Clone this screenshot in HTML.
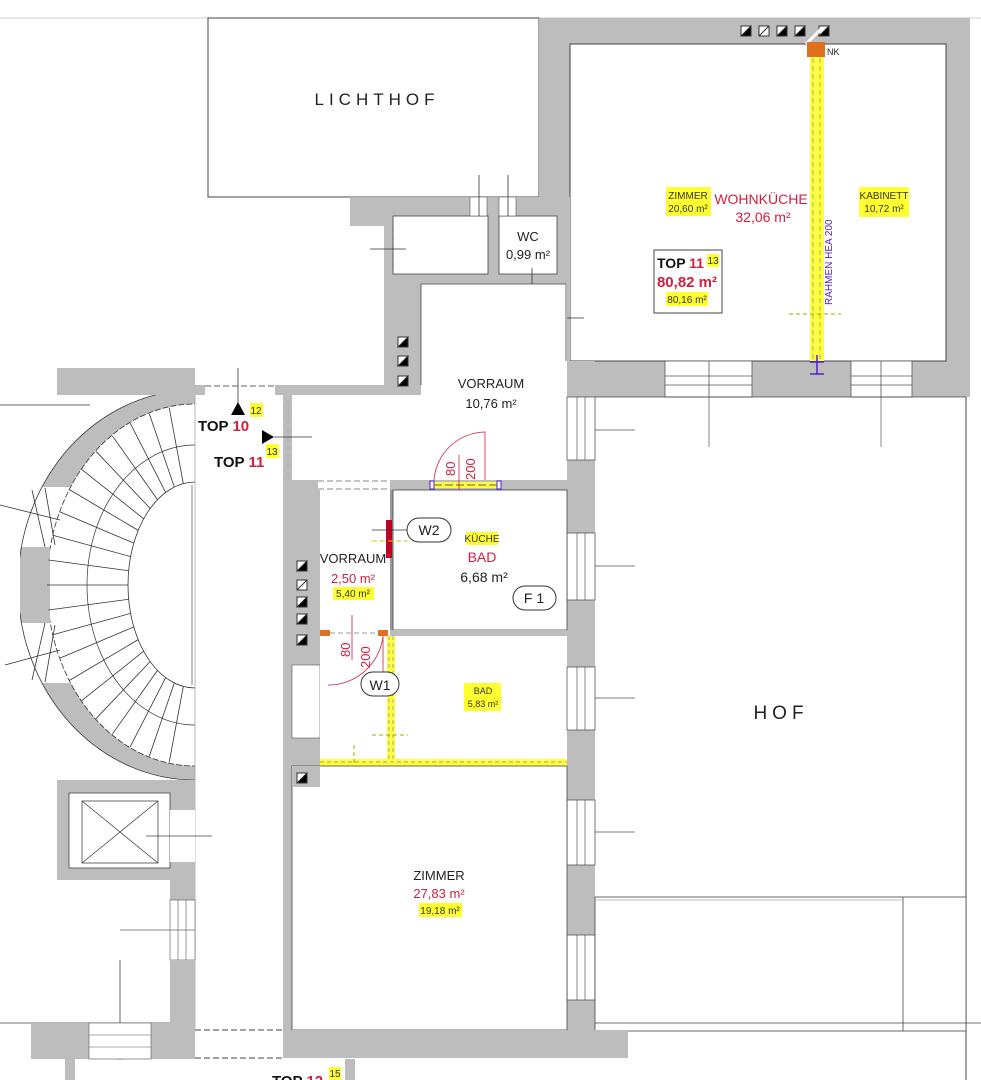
<!DOCTYPE html>
<html><head><meta charset="utf-8"><style>
html,body{margin:0;padding:0;background:#fff;}
svg{display:block;font-family:"Liberation Sans",sans-serif;}
</style></head><body>
<svg width="981" height="1080" viewBox="0 0 981 1080" xmlns="http://www.w3.org/2000/svg">
<defs><clipPath id="lh"><rect x="0" y="360" width="195" height="440"/></clipPath></defs>
<rect width="981" height="1080" fill="#fff"/>
<line x1="0" y1="18" x2="981" y2="18" stroke="#ccc" stroke-width="1"/>
<rect x="208" y="18" width="331" height="179" fill="#fff" stroke="#444" stroke-width="1"/>
<text x="377" y="105" font-size="17" text-anchor="middle" letter-spacing="5" fill="#222">LICHTHOF</text>

<rect x="539" y="18" width="431" height="379" fill="#bdbdbd"/>
<rect x="570" y="44" width="376" height="317" fill="#fff" stroke="#444" stroke-width="1"/>
<rect x="665" y="361" width="87" height="36" fill="#fff" stroke="#555" stroke-width="0.8"/>
<line x1="665" y1="376" x2="752" y2="376" stroke="#555" stroke-width="0.8"/>
<line x1="665" y1="385" x2="752" y2="385" stroke="#555" stroke-width="0.8"/>
<line x1="709" y1="361" x2="709" y2="397" stroke="#555" stroke-width="0.8"/>
<rect x="851" y="361" width="61" height="36" fill="#fff" stroke="#555" stroke-width="0.8"/>
<line x1="851" y1="376" x2="912" y2="376" stroke="#555" stroke-width="0.8"/>
<line x1="851" y1="385" x2="912" y2="385" stroke="#555" stroke-width="0.8"/>
<line x1="881" y1="361" x2="881" y2="397" stroke="#555" stroke-width="0.8"/>

<rect x="350" y="197" width="220" height="29" fill="#bdbdbd"/>
<rect x="384" y="226" width="186" height="170" fill="#bdbdbd"/>
<rect x="393" y="216" width="95" height="58" fill="#fff" stroke="#444" stroke-width="0.8"/>
<rect x="499" y="216" width="58" height="58" fill="#fff" stroke="#444" stroke-width="0.8"/>
<rect x="470" y="197" width="17" height="19" fill="#fff" stroke="#555" stroke-width="0.6"/>
<rect x="499" y="197" width="17" height="19" fill="#fff" stroke="#555" stroke-width="0.6"/>
<line x1="479" y1="175" x2="479" y2="216" stroke="#333" stroke-width="0.8"/>
<line x1="508" y1="175" x2="508" y2="216" stroke="#333" stroke-width="0.8"/>
<line x1="393" y1="226" x2="393" y2="272" stroke="#555" stroke-dasharray="6,3"/>
<line x1="370" y1="249" x2="406" y2="249" stroke="#333" stroke-width="0.8"/>
<text x="528" y="241" font-size="13" text-anchor="middle" fill="#222">WC</text>
<text x="528" y="259" font-size="13" text-anchor="middle" fill="#222">0,99 m²</text>
<line x1="532" y1="268" x2="532" y2="298" stroke="#333" stroke-width="0.8"/>
<line x1="550" y1="318" x2="584" y2="318" stroke="#333" stroke-width="0.8"/>

<g clip-path="url(#lh)">
<ellipse cx="195" cy="585" rx="177" ry="195" fill="#bdbdbd"/>
<path d="M20 487 L70 487 L70 547 L20 547Z M20 623 L70 623 L70 683 L20 683Z" fill="#fff"/>
<ellipse cx="195" cy="585" rx="177" ry="195" fill="none" stroke="#333" stroke-width="0.8"/>
<ellipse cx="195" cy="585" rx="148" ry="181" fill="#fff" stroke="#333" stroke-width="0.8" stroke-dasharray="6,2"/>
<ellipse cx="195" cy="585" rx="108" ry="140" fill="none" stroke="#333" stroke-width="0.7"/>
<ellipse cx="195" cy="585" rx="67" ry="103" fill="#fff" stroke="#333" stroke-width="0.8"/>
</g>
<rect x="0" y="360" width="20" height="440" fill="#fff"/>
<rect x="22" y="547" width="28" height="76" fill="#bdbdbd"/>
<rect x="57" y="368" width="138" height="27" fill="#bdbdbd"/>
<g stroke="#333" stroke-width="0.8">
<line x1="32" y1="490" x2="45" y2="547"/><line x1="45" y1="488" x2="55" y2="545"/>
<line x1="32" y1="680" x2="45" y2="623"/><line x1="45" y1="682" x2="55" y2="625"/>
<line x1="183.3" y1="483.5" x2="169.2" y2="407.7"/><line x1="174.3" y1="487" x2="149.3" y2="413.8"/>
<line x1="165.7" y1="492.4" x2="130.2" y2="423.2"/><line x1="157.5" y1="499.6" x2="112.3" y2="435.8"/>
<line x1="150.2" y1="508.5" x2="96" y2="451.3"/><line x1="143.7" y1="518.8" x2="81.6" y2="469.3"/>
<line x1="138.2" y1="530.4" x2="69.5" y2="489.6"/><line x1="133.8" y1="543.1" x2="59.7" y2="511.7"/>
<line x1="130.6" y1="556.6" x2="52.8" y2="535.3"/><line x1="128.7" y1="570.7" x2="48.5" y2="560"/>
<line x1="128" y1="585" x2="47" y2="585"/>
<line x1="128.7" y1="599.3" x2="48.5" y2="610"/><line x1="130.6" y1="613.4" x2="52.8" y2="634.7"/>
<line x1="133.8" y1="626.9" x2="59.7" y2="658.3"/><line x1="138.2" y1="639.6" x2="69.5" y2="680.4"/>
<line x1="143.7" y1="651.2" x2="81.6" y2="700.7"/><line x1="150.2" y1="661.5" x2="96" y2="718.7"/>
<line x1="157.5" y1="670.4" x2="112.3" y2="734.2"/><line x1="165.7" y1="677.6" x2="130.2" y2="746.8"/>
<line x1="174.3" y1="683" x2="149.3" y2="756.2"/><line x1="183.3" y1="686.5" x2="169.2" y2="762.3"/>
<line x1="0" y1="505" x2="60" y2="520"/><line x1="5" y1="665" x2="60" y2="650"/>
</g>
<line x1="192" y1="485" x2="192" y2="685" stroke="#999" stroke-width="1.2"/>
<line x1="0" y1="405" x2="90" y2="405" stroke="#333" stroke-width="0.8"/>
<line x1="195" y1="395" x2="195" y2="1030" stroke="#888" stroke-width="0.6"/>

<rect x="195" y="385" width="226" height="10" fill="#bdbdbd"/>
<rect x="205" y="385" width="70" height="10" fill="#fff"/>
<line x1="205" y1="386" x2="275" y2="386" stroke="#333" stroke-dasharray="6,3" stroke-width="0.8"/>
<line x1="238" y1="368" x2="238" y2="405" stroke="#333" stroke-width="0.8"/>

<rect x="421" y="284" width="146" height="111" fill="#fff"/>
<rect x="292" y="395" width="275" height="85" fill="#fff"/>
<line x1="421" y1="284" x2="566" y2="284" stroke="#444" stroke-width="0.8"/>
<line x1="421" y1="284" x2="421" y2="385" stroke="#444" stroke-width="0.8"/>
<text x="491" y="388" font-size="13" text-anchor="middle" fill="#222">VORRAUM</text>
<text x="491" y="408" font-size="13" text-anchor="middle" fill="#222">10,76 m²</text>

<rect x="567" y="361" width="28" height="670" fill="#bdbdbd"/>
<line x1="566" y1="284" x2="566" y2="361" stroke="#444" stroke-width="0.8"/>
<g stroke="#555" stroke-width="0.8" fill="#fff">
<rect x="567" y="397" width="28" height="63"/><rect x="567" y="533" width="28" height="67"/>
<rect x="567" y="667" width="28" height="63"/><rect x="567" y="800" width="28" height="65"/>
<rect x="567" y="935" width="28" height="65"/>
</g>
<g stroke="#555" stroke-width="0.7">
<line x1="577" y1="397" x2="577" y2="460"/><line x1="585" y1="397" x2="585" y2="460"/>
<line x1="577" y1="533" x2="577" y2="600"/><line x1="585" y1="533" x2="585" y2="600"/>
<line x1="577" y1="667" x2="577" y2="730"/><line x1="585" y1="667" x2="585" y2="730"/>
<line x1="577" y1="800" x2="577" y2="865"/><line x1="585" y1="800" x2="585" y2="865"/>
<line x1="577" y1="935" x2="577" y2="1000"/><line x1="585" y1="935" x2="585" y2="1000"/>
<line x1="595" y1="430" x2="635" y2="430"/><line x1="595" y1="566" x2="635" y2="566"/>
<line x1="595" y1="698" x2="635" y2="698"/><line x1="595" y1="832" x2="635" y2="832"/>
<line x1="595" y1="967" x2="635" y2="967"/>
<line x1="709" y1="397" x2="709" y2="447"/><line x1="881" y1="397" x2="881" y2="447"/>
</g>

<line x1="595" y1="397" x2="966" y2="397" stroke="#444" stroke-width="0.8"/>
<line x1="966" y1="397" x2="966" y2="1080" stroke="#444" stroke-width="1"/>
<text x="781" y="719" font-size="19" text-anchor="middle" letter-spacing="5" fill="#222">HOF</text>
<rect x="595" y="897" width="371" height="134" fill="#fff" stroke="#444" stroke-width="0.8"/>
<line x1="903" y1="897" x2="903" y2="1031" stroke="#444" stroke-width="0.8"/>
<line x1="595" y1="900" x2="903" y2="900" stroke="#aaa" stroke-width="0.8"/>

<rect x="283" y="395" width="9" height="635" fill="#bdbdbd"/>
<rect x="283" y="487" width="37" height="300" fill="#bdbdbd"/>
<rect x="292" y="665" width="28" height="73" fill="#fff" stroke="#555" stroke-width="0.6"/>
<line x1="288" y1="400" x2="288" y2="480" stroke="#aaa" stroke-dasharray="6,3"/>
<rect x="292" y="480" width="275" height="10" fill="#bdbdbd"/>
<rect x="318" y="480" width="72" height="10" fill="#fff"/>
<line x1="318" y1="481" x2="390" y2="481" stroke="#888" stroke-dasharray="6,3"/>
<line x1="318" y1="489" x2="390" y2="489" stroke="#888" stroke-dasharray="6,3"/>
<rect x="320" y="490" width="70" height="140" fill="#fff"/>
<rect x="432" y="482" width="68" height="6" fill="#ffff40"/>
<rect x="430" y="481" width="4" height="8" fill="#fff" stroke="#5020d0" stroke-width="1"/>
<rect x="497" y="481" width="4" height="8" fill="#fff" stroke="#5020d0" stroke-width="1"/>
<line x1="434" y1="485" x2="497" y2="485" stroke="#333" stroke-width="0.8" stroke-dasharray="8,3"/>
<path d="M434 480 A52 52 0 0 1 485 432 L485 480" fill="none" stroke="#d02040" stroke-width="0.8"/>
<line x1="459" y1="455" x2="459" y2="505" stroke="#d02040" stroke-width="0.8"/>
<text x="0" y="0" font-size="13" fill="#d02040" transform="translate(455,476) rotate(-90)">80</text>
<text x="0" y="0" font-size="13" fill="#d02040" transform="translate(475,480) rotate(-90)">200</text>
<text x="469" y="500" font-size="10" fill="#5020d0">RAHMEN 120/60/5</text>

<rect x="390" y="490" width="3" height="146" fill="#999"/>
<rect x="393" y="490" width="174" height="140" fill="#fff" stroke="#444" stroke-width="0.8"/>
<rect x="390" y="630" width="177" height="6" fill="#bdbdbd"/>
<rect x="386" y="520" width="6" height="38" fill="#c00020"/>
<line x1="372" y1="530" x2="408" y2="530" stroke="#333" stroke-width="0.8"/>
<line x1="372" y1="541" x2="408" y2="541" stroke="#cc0" stroke-width="1" stroke-dasharray="5,3"/>
<rect x="407" y="518" width="44" height="24" rx="12" fill="#fff" stroke="#333" stroke-width="1"/>
<text x="429" y="535" font-size="14" text-anchor="middle" fill="#222">W2</text>
<rect x="466" y="532" width="32" height="13" fill="#ffff30"/>
<text x="482" y="542" font-size="10" text-anchor="middle" fill="#333">KÜCHE</text>
<text x="482" y="562" font-size="14" text-anchor="middle" fill="#d02040">BAD</text>
<text x="484" y="582" font-size="14" text-anchor="middle" fill="#222">6,68 m²</text>
<rect x="513" y="586" width="43" height="24" rx="12" fill="#fff" stroke="#333" stroke-width="1"/>
<text x="534" y="603" font-size="14" text-anchor="middle" fill="#222">F 1</text>

<text x="353" y="563" font-size="13" text-anchor="middle" fill="#222">VORRAUM</text>
<text x="353" y="583" font-size="13" text-anchor="middle" fill="#d02040">2,50 m²</text>
<rect x="333" y="587" width="41" height="13" fill="#ffff30"/>
<text x="353" y="597" font-size="10" text-anchor="middle" fill="#333">5,40 m²</text>
<g stroke="#333" stroke-width="1">
<rect x="297" y="561" width="10" height="10" fill="#fff"/><path d="M297 571 L307 561 L307 571Z" fill="#000"/>
<rect x="297" y="580" width="10" height="10" fill="#fff"/><line x1="297" y1="590" x2="307" y2="580"/>
<rect x="297" y="597" width="10" height="10" fill="#fff"/><path d="M297 607 L307 597 L307 607Z" fill="#000"/>
<rect x="297" y="614" width="10" height="10" fill="#fff"/><path d="M297 624 L307 614 L307 624Z" fill="#000"/>
<rect x="297" y="635" width="10" height="10" fill="#fff"/><path d="M297 645 L307 635 L307 645Z" fill="#000"/>
<rect x="398" y="337" width="10" height="10" fill="#fff"/><path d="M398 347 L408 337 L408 347Z" fill="#000"/>
<rect x="398" y="356" width="10" height="10" fill="#fff"/><path d="M398 366 L408 356 L408 366Z" fill="#000"/>
<rect x="398" y="376" width="10" height="10" fill="#fff"/><path d="M398 386 L408 376 L408 386Z" fill="#000"/>
<rect x="741" y="26" width="10" height="10" fill="#fff"/><path d="M741 36 L751 26 L751 36Z" fill="#000"/>
<rect x="759" y="26" width="10" height="10" fill="#fff"/><line x1="759" y1="36" x2="769" y2="26"/>
<rect x="777" y="26" width="10" height="10" fill="#fff"/><path d="M777 36 L787 26 L787 36Z" fill="#000"/>
<rect x="795" y="26" width="10" height="10" fill="#fff"/><path d="M795 36 L805 26 L805 36Z" fill="#000"/>
<rect x="819" y="26" width="10" height="10" fill="#fff"/><path d="M819 36 L829 26 L829 36Z" fill="#000"/>
</g>
<line x1="806" y1="44" x2="822" y2="28" stroke="#fff" stroke-width="3"/>

<rect x="320" y="630" width="10" height="6" fill="#e07020"/>
<rect x="378" y="630" width="10" height="6" fill="#e07020"/>
<line x1="330" y1="633" x2="378" y2="633" stroke="#999" stroke-dasharray="5,3"/>
<rect x="320" y="636" width="67" height="123" fill="#fff"/>
<path d="M328 685 A55 55 0 0 0 383 636 L383 690" fill="none" stroke="#d02040" stroke-width="0.8"/>
<line x1="352" y1="615" x2="352" y2="660" stroke="#d02040" stroke-width="0.8"/>
<text x="0" y="0" font-size="13" fill="#d02040" transform="translate(350,657) rotate(-90)">80</text>
<text x="0" y="0" font-size="13" fill="#d02040" transform="translate(370,668) rotate(-90)">200</text>
<rect x="387" y="636" width="8" height="126" fill="#ffff40"/>
<line x1="389" y1="636" x2="389" y2="762" stroke="#888" stroke-dasharray="4,3" stroke-width="0.7"/>
<line x1="393" y1="636" x2="393" y2="762" stroke="#888" stroke-dasharray="4,3" stroke-width="0.7"/>
<line x1="372" y1="735" x2="408" y2="735" stroke="#aa0" stroke-dasharray="4,3"/>
<rect x="361" y="672" width="38" height="24" rx="12" fill="#fff" stroke="#333" stroke-width="1"/>
<text x="380" y="690" font-size="14" text-anchor="middle" fill="#222">W1</text>
<rect x="464" y="683" width="37" height="28" fill="#ffff30"/>
<text x="483" y="694" font-size="9" text-anchor="middle" fill="#333">BAD</text>
<text x="483" y="707" font-size="9" text-anchor="middle" fill="#333">5,83 m²</text>
<rect x="320" y="759" width="247" height="7" fill="#ffff40"/>
<line x1="320" y1="762" x2="567" y2="762" stroke="#888" stroke-dasharray="4,3" stroke-width="0.7"/>
<line x1="354" y1="745" x2="354" y2="782" stroke="#aa0" stroke-dasharray="4,3"/>

<rect x="292" y="766" width="275" height="264" fill="#fff" stroke="#444" stroke-width="0.8"/>
<rect x="292" y="766" width="28" height="21" fill="#bdbdbd"/>
<g stroke="#333" stroke-width="1"><rect x="297" y="773" width="10" height="10" fill="#fff"/><path d="M297 783 L307 773 L307 783Z" fill="#000"/></g>
<rect x="283" y="1030" width="345" height="28" fill="#bdbdbd"/>
<text x="439" y="880" font-size="13" text-anchor="middle" fill="#222">ZIMMER</text>
<text x="439" y="898" font-size="13" text-anchor="middle" fill="#d02040">27,83 m²</text>
<rect x="419" y="903" width="43" height="14" fill="#ffff30"/>
<text x="440" y="914" font-size="10" text-anchor="middle" fill="#333">19,18 m²</text>

<rect x="810" y="44" width="14" height="317" fill="#ffff40"/>
<line x1="813" y1="50" x2="813" y2="361" stroke="#888" stroke-dasharray="5,3" stroke-width="0.7"/>
<line x1="820" y1="50" x2="820" y2="361" stroke="#888" stroke-dasharray="5,3" stroke-width="0.7"/>
<rect x="807" y="42" width="18" height="15" fill="#e07020"/>
<text x="827" y="55" font-size="9" fill="#222">NK</text>
<line x1="789" y1="314" x2="841" y2="314" stroke="#aa0" stroke-dasharray="4,3"/>
<line x1="810" y1="362" x2="824" y2="362" stroke="#5020d0" stroke-width="1.5"/>
<line x1="810" y1="374" x2="824" y2="374" stroke="#5020d0" stroke-width="1.5"/>
<line x1="817" y1="355" x2="817" y2="374" stroke="#5020d0" stroke-width="1.5"/>
<text x="0" y="0" font-size="10" fill="#5020d0" transform="translate(832,305) rotate(-90)">RAHMEN HEA 200</text>
<rect x="666" y="187" width="45" height="29" fill="#ffff30"/>
<text x="688" y="199" font-size="10" text-anchor="middle" fill="#333">ZIMMER</text>
<text x="688" y="212" font-size="10" text-anchor="middle" fill="#333">20,60 m²</text>
<text x="761" y="204" font-size="14" text-anchor="middle" fill="#d02040">WOHNKÜCHE</text>
<text x="763" y="222" font-size="14" text-anchor="middle" fill="#d02040">32,06 m²</text>
<rect x="859" y="187" width="50" height="30" fill="#ffff30"/>
<text x="884" y="199" font-size="10" text-anchor="middle" fill="#333">KABINETT</text>
<text x="884" y="212" font-size="10" text-anchor="middle" fill="#333">10,72 m²</text>
<rect x="654" y="250" width="68" height="63" fill="#fff" stroke="#444" stroke-width="1"/>
<text x="657" y="268" font-size="14" font-weight="bold" fill="#111">TOP <tspan fill="#d02040">11</tspan></text>
<rect x="707" y="254" width="12" height="13" fill="#ffff30"/>
<text x="713" y="264" font-size="10" text-anchor="middle" fill="#333">13</text>
<text x="687" y="287" font-size="15" font-weight="bold" text-anchor="middle" fill="#d02040">80,82 m²</text>
<rect x="666" y="292" width="42" height="14" fill="#ffff30"/>
<text x="687" y="303" font-size="10" text-anchor="middle" fill="#333">80,16 m²</text>

<path d="M231 415 L245 415 L238 402Z" fill="#000"/>
<rect x="250" y="403" width="13" height="14" fill="#ffff30"/>
<text x="256" y="414" font-size="10" text-anchor="middle" fill="#333">12</text>
<text x="198" y="431" font-size="15" font-weight="bold" fill="#111">TOP <tspan fill="#d02040">10</tspan></text>
<path d="M262 430 L262 444 L274 437Z" fill="#000"/>
<line x1="274" y1="437" x2="312" y2="437" stroke="#333" stroke-width="0.8"/>
<rect x="266" y="444" width="13" height="14" fill="#ffff30"/>
<text x="272" y="455" font-size="10" text-anchor="middle" fill="#333">13</text>
<text x="214" y="467" font-size="15" font-weight="bold" fill="#111">TOP <tspan fill="#d02040">11</tspan></text>

<rect x="57" y="780" width="138" height="100" fill="#bdbdbd"/>
<rect x="69" y="793" width="101" height="75" fill="#fff" stroke="#444" stroke-width="0.8"/>
<rect x="82" y="801" width="76" height="62" fill="#fff" stroke="#444" stroke-width="0.8"/>
<line x1="82" y1="801" x2="158" y2="863" stroke="#444" stroke-width="0.8"/>
<line x1="158" y1="801" x2="82" y2="863" stroke="#444" stroke-width="0.8"/>
<rect x="170" y="810" width="25" height="52" fill="#fff"/>
<line x1="146" y1="836" x2="212" y2="836" stroke="#444" stroke-width="0.8"/>
<rect x="170" y="880" width="25" height="20" fill="#bdbdbd"/>
<rect x="170" y="900" width="25" height="60" fill="#fff" stroke="#555" stroke-width="0.6"/>
<line x1="178" y1="900" x2="178" y2="960" stroke="#555" stroke-width="0.6"/>
<line x1="186" y1="900" x2="186" y2="960" stroke="#555" stroke-width="0.6"/>
<rect x="170" y="960" width="25" height="70" fill="#bdbdbd"/>
<line x1="120" y1="930" x2="195" y2="930" stroke="#888" stroke-width="1"/>
<line x1="120" y1="960" x2="120" y2="1060" stroke="#444" stroke-width="0.8"/>
<line x1="0" y1="1023" x2="170" y2="1023" stroke="#444" stroke-width="0.8"/>
<line x1="595" y1="1023" x2="981" y2="1023" stroke="#444" stroke-width="0.8"/>
<rect x="31" y="1023" width="164" height="36" fill="#bdbdbd"/>
<rect x="89" y="1023" width="62" height="36" fill="#fff" stroke="#555" stroke-width="0.6"/>
<line x1="89" y1="1035" x2="151" y2="1035" stroke="#555" stroke-width="0.6"/>
<line x1="89" y1="1047" x2="151" y2="1047" stroke="#555" stroke-width="0.6"/>
<line x1="195" y1="1030" x2="283" y2="1030" stroke="#444" stroke-dasharray="6,3"/>
<line x1="195" y1="1058" x2="283" y2="1058" stroke="#444" stroke-dasharray="6,3"/>
<rect x="65" y="1059" width="10" height="21" fill="#bdbdbd"/>
<rect x="345" y="1059" width="10" height="21" fill="#bdbdbd"/>
<text x="272" y="1086" font-size="15" font-weight="bold" fill="#111">TOP <tspan fill="#d02040">12</tspan></text>
<rect x="329" y="1067" width="12" height="13" fill="#ffff30"/>
<text x="335" y="1077" font-size="10" text-anchor="middle" fill="#333">15</text>
</svg>
</body></html>
